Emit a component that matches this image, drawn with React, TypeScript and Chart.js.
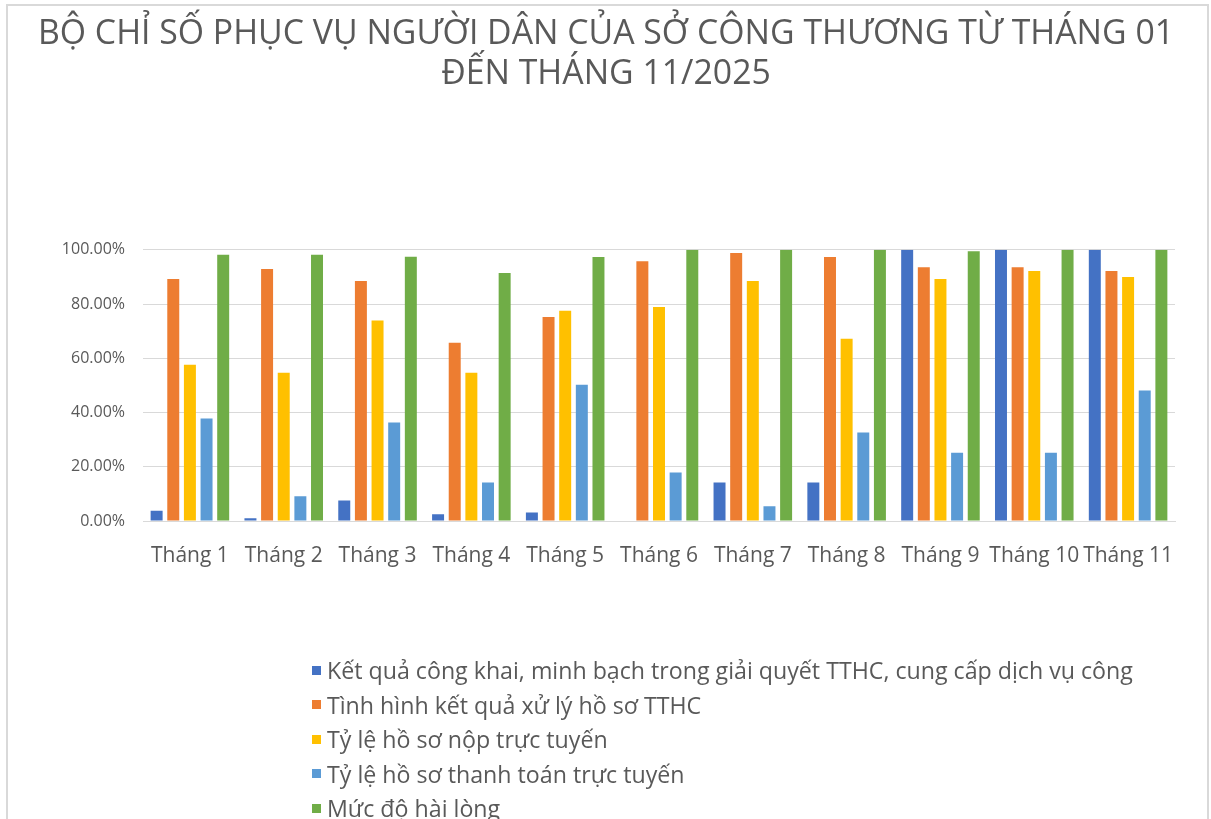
import React, { useEffect, useRef } from "react";
import { Chart, registerables } from "chart.js";

Chart.register(...registerables);

const titleLines = [
  "BỘ CHỈ SỐ PHỤC VỤ NGƯỜI DÂN CỦA SỞ CÔNG THƯƠNG TỪ THÁNG 01",
  "ĐẾN THÁNG 11/2025",
];

const months = [
  "Tháng 1", "Tháng 2", "Tháng 3", "Tháng 4", "Tháng 5", "Tháng 6",
  "Tháng 7", "Tháng 8", "Tháng 9", "Tháng 10", "Tháng 11",
];

const seriesNames = [
  "Kết quả công khai, minh bạch trong giải quyết TTHC, cung cấp dịch vụ công",
  "Tình hình kết quả xử lý hồ sơ TTHC",
  "Tỷ lệ hồ sơ nộp trực tuyến",
  "Tỷ lệ hồ sơ thanh toán trực tuyến",
  "Mức độ hài lòng",
];

const congKhai = [3.8, 1.0, 7.6, 2.5, 3.1, 0, 14.2, 14.2, 100, 100, 100];
const xuLyHoSo = [89.2, 92.9, 88.5, 65.7, 75.2, 95.8, 98.8, 97.3, 93.6, 93.6, 92.2];
const nopTrucTuyen = [57.6, 54.7, 73.9, 54.7, 77.5, 78.9, 88.5, 67.2, 89.2, 92.2, 90.0];
const thanhToanTrucTuyen = [37.8, 9.1, 36.3, 14.2, 50.2, 17.9, 5.4, 32.6, 25.2, 25.2, 48.1];
const haiLong = [98.2, 98.2, 97.4, 91.4, 97.3, 100, 100, 100, 99.5, 100, 100];

const yTicks = [0, 20, 40, 60, 80, 100];

const colors = ["#4472C4", "#ED7D31", "#FFC000", "#5B9BD5", "#70AD47"];
const seriesData = [congKhai, xuLyHoSo, nopTrucTuyen, thanhToanTrucTuyen, haiLong];

const FONT = "'Open Sans', 'Noto Sans', sans-serif";
const TEXT = "#595959";

export default function App() {
  const ref = useRef<HTMLCanvasElement | null>(null);

  useEffect(() => {
    document.body.style.margin = "0";
    if (!ref.current) return;
    const chart = new Chart(ref.current, {
      type: "bar",
      data: {
        labels: months,
        datasets: seriesNames.map((name, i) => ({
          label: name,
          data: seriesData[i],
          backgroundColor: colors[i],
          borderWidth: 0,
          categoryPercentage: 0.887,
          barPercentage: 0.72,
        })),
      },
      options: {
        animation: false,
        responsive: false,
        maintainAspectRatio: false,
        layout: { padding: { left: 37, right: 36, top: 0, bottom: 0 } },
        plugins: {
          legend: { display: false },
          tooltip: { enabled: false },
          title: {
            display: true,
            text: titleLines,
            color: TEXT,
            font: { family: FONT, size: 33.8, weight: "normal", lineHeight: 1.21 },
            padding: { top: 13.5, bottom: 154.5 },
          },
        },
        scales: {
          x: {
            grid: { display: false, drawTicks: false },
            border: { display: true, color: "#d9d9d9", width: 1 },
            ticks: {
              color: TEXT,
              font: { family: FONT, size: 21 },
              padding: 22,
              maxRotation: 0,
              autoSkip: false,
            },
            afterFit: (scale: any) => {
              scale.height = 298;
            },
          },
          y: {
            min: 0,
            max: 100,
            afterBuildTicks: (scale: any) => {
              scale.ticks = yTicks.map((v) => ({ value: v }));
            },
            grid: { color: "#d9d9d9", lineWidth: 1, drawTicks: false },
            border: { display: false },
            ticks: {
              color: TEXT,
              font: { family: FONT, size: 16 },
              padding: 18,
              callback: (v: any) => Number(v).toFixed(2) + "%",
            },
            afterFit: (scale: any) => {
              scale.width = 106;
            },
          },
        },
      },
    });
    return () => chart.destroy();
  }, []);

  return (
    <div style={{ position: "absolute", left: 0, top: 0, width: 1211, height: 819, background: "#fff", overflow: "hidden" }}>
      <div
        style={{
          position: "absolute",
          left: 6,
          top: 4,
          width: 1203,
          height: 830,
          border: "2px solid #d9d9d9",
          boxSizing: "border-box",
        }}
      />
      <canvas ref={ref} width={1211} height={819} style={{ position: "absolute", left: 0, top: 0, width: 1211, height: 819 }} />
      <div style={{ position: "absolute", left: 312, top: 653, fontFamily: FONT, fontSize: 23.2, color: TEXT }}>
        {seriesNames.map((name, i) => (
          <div key={name} style={{ display: "flex", alignItems: "center", height: 34.5, whiteSpace: "nowrap" }}>
            <span style={{ display: "inline-block", width: 9, height: 9, background: colors[i], marginRight: 6 }} />
            <span>{name}</span>
          </div>
        ))}
      </div>
    </div>
  );
}
